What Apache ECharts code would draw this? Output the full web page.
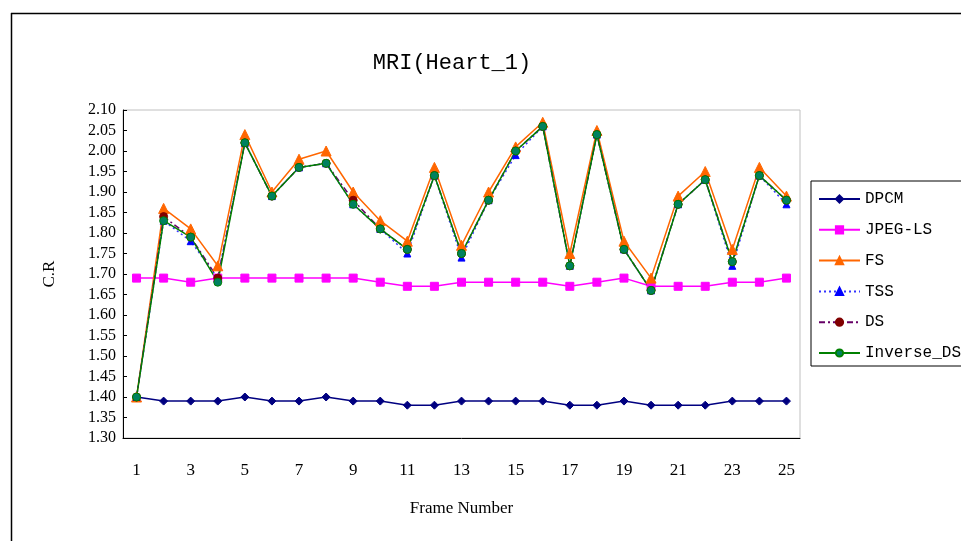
<!DOCTYPE html>
<html><head><meta charset="utf-8">
<script src="https://cdn.jsdelivr.net/npm/echarts@6/dist/echarts.min.js"></script>
<style>html,body{margin:0;padding:0;background:#fff}#c{width:961px;height:541px}</style>
</head><body><div id="c"></div>
<script>
const frames = ['1','2','3','4','5','6','7','8','9','10','11','12','13','14','15','16','17','18','19','20','21','22','23','24','25'];
const dpcm = [1.40,1.39,1.39,1.39,1.40,1.39,1.39,1.40,1.39,1.39,1.38,1.38,1.39,1.39,1.39,1.39,1.38,1.38,1.39,1.38,1.38,1.38,1.39,1.39,1.39];
const jpegls = [1.69,1.69,1.68,1.69,1.69,1.69,1.69,1.69,1.69,1.68,1.67,1.67,1.68,1.68,1.68,1.68,1.67,1.68,1.69,1.67,1.67,1.67,1.68,1.68,1.69];
const fs = [1.40,1.86,1.81,1.72,2.04,1.90,1.98,2.00,1.90,1.83,1.78,1.96,1.77,1.90,2.01,2.07,1.75,2.05,1.78,1.69,1.89,1.95,1.76,1.96,1.89];
const tss = [1.40,1.83,1.78,1.69,2.02,1.89,1.96,1.97,1.87,1.81,1.75,1.94,1.74,1.88,1.99,2.06,1.72,2.04,1.76,1.66,1.87,1.93,1.72,1.94,1.87];
const ds = [1.40,1.84,1.79,1.69,2.02,1.89,1.96,1.97,1.88,1.81,1.76,1.94,1.75,1.88,2.00,2.06,1.72,2.04,1.76,1.66,1.87,1.93,1.73,1.94,1.88];
const inverseDs = [1.40,1.83,1.79,1.68,2.02,1.89,1.96,1.97,1.87,1.81,1.76,1.94,1.75,1.88,2.00,2.06,1.72,2.04,1.76,1.66,1.87,1.93,1.73,1.94,1.88];

const chart = echarts.init(document.getElementById('c'));
const serif = '"Liberation Serif", "Times New Roman", serif';
const mono = '"Liberation Mono", monospace';
function s(name, data, color, symbol, size, lineType, markerColor, borderColor) {
  return {
    name, type: 'line', data, symbol, symbolSize: size, showSymbol: true,
    lineStyle: { color, width: 1.5, type: lineType || 'solid' },
    itemStyle: { color: markerColor || color, borderColor: borderColor || markerColor || color, borderWidth: 1 },
    emphasis: { disabled: true }, animation: false
  };
}
chart.setOption({
  animation: false,
  title: { text: 'MRI(Heart_1)', left: 447, top: 47, textAlign: 'center',
    textStyle: { fontFamily: mono, fontSize: 22, fontWeight: 'normal', color: '#000' } },
  grid: { left: 123, top: 110, right: 161, bottom: 103, show: true, borderColor: '#c0c0c0', borderWidth: 1, backgroundColor: 'transparent' },
  legend: {
    orient: 'vertical', left: 811, top: 181, padding: [10, 40, 5, 7],
    borderColor: '#000', borderWidth: 1, itemWidth: 41, itemHeight: 9, itemGap: 14.8,
    textStyle: { fontFamily: mono, fontSize: 16, lineHeight: 16, color: '#000' },
    data: ['DPCM','JPEG-LS','FS','TSS','DS','Inverse_DS']
  },
  xAxis: {
    type: 'category', data: frames, boundaryGap: true,
    name: 'Frame Number', nameLocation: 'middle', nameGap: 62,
    nameTextStyle: { fontFamily: serif, fontSize: 17, color: '#000' },
    axisLine: { lineStyle: { color: '#000', width: 1 } },
    axisTick: { inside: true, length: 5, interval: 0, lineStyle: { color: '#000' } },
    axisLabel: { interval: 1, margin: 24, fontFamily: serif, fontSize: 17, color: '#000' },
    splitLine: { show: false }
  },
  yAxis: {
    type: 'value', min: 1.30, max: 2.10, interval: 0.05,
    name: 'C.R', nameLocation: 'middle', nameGap: 65,
    nameTextStyle: { fontFamily: serif, fontSize: 17, color: '#000' },
    axisLine: { show: true, lineStyle: { color: '#000', width: 1 } },
    axisTick: { show: true, inside: true, length: 4, lineStyle: { color: '#000' } },
    axisLabel: { margin: 7, fontFamily: serif, fontSize: 16, color: '#000', formatter: v => v.toFixed(2) },
    splitLine: { show: false }
  },
  graphic: [
    { type: 'line', shape: { x1: 11, y1: 13.5, x2: 961, y2: 13.5 }, style: { stroke: '#000', lineWidth: 1.5 } },
    { type: 'line', shape: { x1: 11.5, y1: 13, x2: 11.5, y2: 541 }, style: { stroke: '#000', lineWidth: 1.5 } }
  ],
  series: [
    s('DPCM', dpcm, '#000080', 'diamond', 8),
    s('JPEG-LS', jpegls, '#ff00ff', 'rect', 8),
    s('FS', fs, '#ff6600', 'triangle', 10),
    s('TSS', tss, '#3333ff', 'triangle', 7, [2, 3], '#0000ff'),
    s('DS', ds, '#660066', 'circle', 8, [6, 3, 2, 3], '#800000', '#800000'),
    s('Inverse_DS', inverseDs, '#008000', 'circle', 8, 'solid', '#008060', '#008000')
  ]
});
</script></body></html>
